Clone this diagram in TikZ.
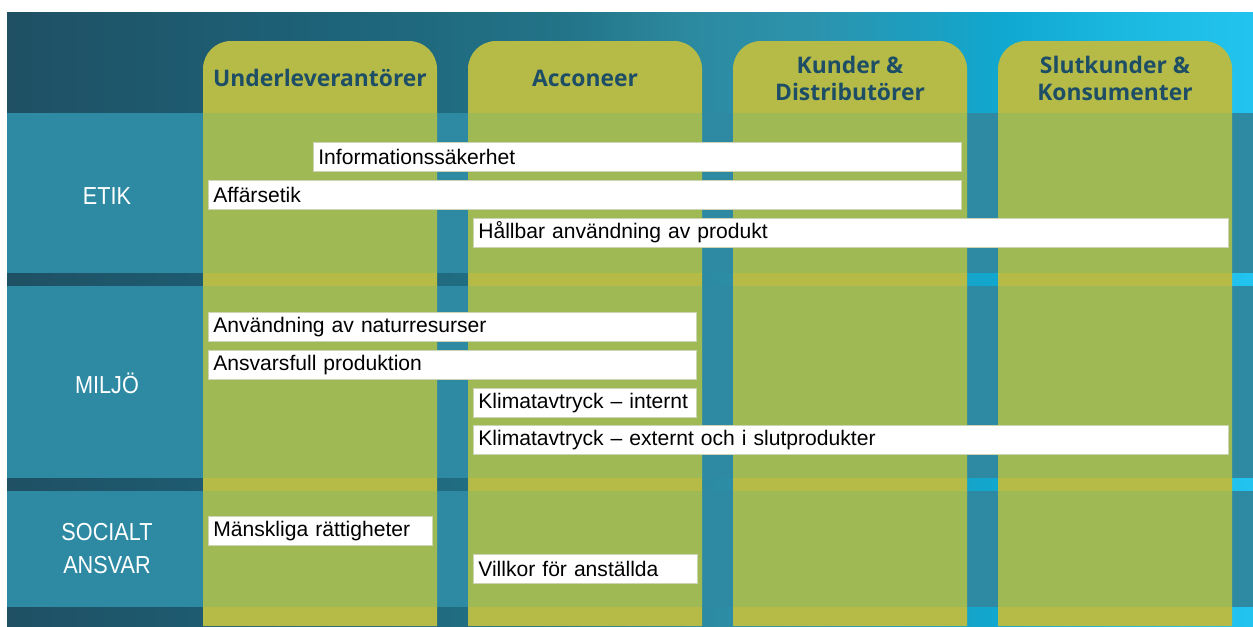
\documentclass[tikz,border=0pt]{standalone}
\usepackage{fontspec}
\setmainfont{Liberation Sans}
\newfontfamily\headfont{Open Sans}
\newfontfamily\labelfont{Liberation Sans}[FakeStretch=0.88]
\definecolor{bandblue}{RGB}{46,138,163}
\definecolor{tabolive}{RGB}{182,187,72}
\definecolor{cellgreen}{RGB}{159,186,85}
\definecolor{headtext}{RGB}{29,78,102}
\definecolor{barline}{RGB}{205,212,180}
\definecolor{gradA}{RGB}{31,80,100}
\definecolor{gradB}{RGB}{29,98,120}
\definecolor{gradC}{RGB}{35,116,136}
\definecolor{gradD}{RGB}{44,138,160}
\definecolor{gradE}{RGB}{44,147,173}
\definecolor{gradF}{RGB}{16,168,208}
\definecolor{gradG}{RGB}{27,185,224}
\definecolor{gradH}{RGB}{34,196,239}
\pgfdeclarehorizontalshading{headgrad}{100bp}{color(0bp)=(gradA); color(25bp)=(gradA); color(37.5bp)=(gradB); color(47.5bp)=(gradC); color(52.5bp)=(gradD); color(57.5bp)=(gradE); color(65bp)=(gradF); color(70bp)=(gradG); color(75bp)=(gradH); color(100bp)=(gradH)}
\newcommand\colorTab{tabolive}
\newcommand\colorCell{cellgreen}

\begin{document}
\begin{tikzpicture}[x=0.02cm, y=-0.02cm,
	topic/.style={text=headtext, font=\headfont\bfseries\fontsize{13}{15.4}\selectfont, align=center},
	rowname/.style={text=white, font=\labelfont\fontsize{14}{18.8}\selectfont, align=center},
	barbox/.style={fill=white, draw=barline, line width=0.4pt, anchor=north west, inner xsep=0.1cm, inner ysep=0pt, minimum height=0.57cm, text width=#1*0.02cm-0.2cm, align=left, font=\fontsize{12}{14}\selectfont}]
		\useasboundingbox (0,0) rectangle (1253,626);
		\shade[shading=headgrad] (7,12) rectangle (1253,626);
	
		% row bands
		\foreach \ra/\rb in {113/273, 286/478, 491/607}{
			\fill[bandblue] (7,\ra) rectangle (1253,\rb);
		}
	
		% columns
		\foreach \cx in {203,468,733,998}{
			\fill[color=\colorTab] (\cx,626) [rounded corners=0.56cm] -- (\cx,41) -- (\cx+234,41) [sharp corners] -- (\cx+234,626) -- cycle;
			\foreach \ra/\rb in {113/273, 286/478, 491/607}{
				\fill[color=\colorCell] (\cx,\ra) rectangle (\cx+234,\rb);
			}
		}
	
		\node[topic] (underlev) at (320,78) {Underleverantörer};
		\node[topic] (acconeer) at (585,78) {Acconeer};
		\node[topic] (kunder) at (850,78) {Kunder \&\\Distributörer};
		\node[topic] (slutkund) at (1115,78) {Slutkunder \&\\Konsumenter};
	
		\node[rowname] (etik) at (107,196) {ETIK};
		\node[rowname] (miljo) at (107,383) {MILJÖ};
		\node[rowname] (socialt) at (107,549) {SOCIALT\\ANSVAR};
	
		\node[barbox=648] (infosak) at (313,142) {Informationssäkerhet};
		\node[barbox=753] (affar) at (208,180) {Affärsetik};
		\node[barbox=755] (hallbar) at (473,218) {Hållbar användning av produkt};
		\node[barbox=488] (natur) at (208,312) {Användning av naturresurser};
		\node[barbox=488] (ansvar) at (208,350) {Ansvarsfull produktion};
		\node[barbox=223] (klimint) at (473,388) {Klimatavtryck – internt};
		\node[barbox=755] (klimext) at (473,425) {Klimatavtryck – externt och i slutprodukter};
		\node[barbox=224] (mansk) at (208,516) {Mänskliga rättigheter};
		\node[barbox=224] (villkor) at (473,554) {Villkor för anställda};
	\end{tikzpicture}
\end{document}
